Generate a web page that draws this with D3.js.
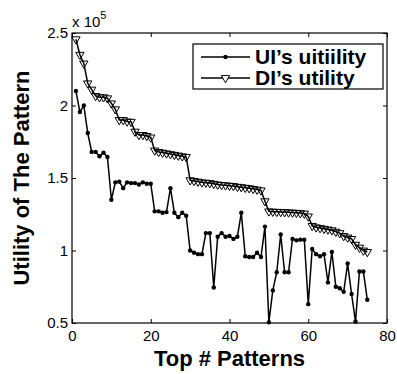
<!DOCTYPE html>
<html>
<head>
<meta charset="utf-8">
<script src="https://cdn.jsdelivr.net/npm/d3@7"></script>
<style>
  body { margin: 0; background: #fff; }
  svg { display: block; }
  text { font-family: "Liberation Sans", Arial, sans-serif; fill: #000; }
</style>
</head>
<body>
<svg id="chart" width="397" height="374"></svg>
<script>
// values are in units of 10^5
const patternRank = d3.range(1, 76);

const uiUtility = [
  2.10, 1.955, 2.00, 1.81, 1.68, 1.68, 1.65, 1.675, 1.645, 1.35,
  1.47, 1.475, 1.43, 1.47, 1.465, 1.465, 1.455, 1.47, 1.46, 1.46,
  1.27, 1.27, 1.26, 1.265, 1.43, 1.26, 1.23, 1.26, 1.24, 1.00,
  0.985, 0.975, 0.975, 1.12, 1.12, 0.745, 1.095, 1.12, 1.095, 1.10,
  1.08, 1.095, 1.26, 0.96, 0.955, 0.955, 0.985, 0.955, 1.165, 0.505,
  0.725, 0.85, 1.11, 0.85, 0.85, 1.08, 1.07, 1.075, 1.075, 0.63,
  1.01, 0.975, 0.96, 0.975, 0.78, 0.99, 0.75, 0.74, 0.715, 0.91,
  0.70, 0.51, 0.855, 0.855, 0.66
];

const diUtility = [
  2.457, 2.35, 2.29, 2.153, 2.11, 2.066, 2.057, 2.057, 2.05, 2.015,
  1.974, 1.90, 1.90, 1.89, 1.888, 1.82, 1.797, 1.797, 1.79, 1.78,
  1.69, 1.68, 1.675, 1.67, 1.665, 1.66, 1.655, 1.65, 1.645, 1.485,
  1.48, 1.475, 1.47, 1.468, 1.465, 1.46, 1.455, 1.452, 1.45, 1.447,
  1.445, 1.44, 1.437, 1.433, 1.43, 1.425, 1.42, 1.415, 1.34, 1.27,
  1.268, 1.267, 1.266, 1.265, 1.263, 1.262, 1.26, 1.258, 1.255, 1.235,
  1.17, 1.16, 1.155, 1.15, 1.145, 1.14, 1.13, 1.12, 1.10, 1.09,
  1.08, 1.04, 1.02, 1.00, 0.99
];

const xTicks = [0, 20, 40, 60, 80];
const yTicks = [0.5, 1, 1.5, 2, 2.5];
const seriesNames = ["UI\u2019s uitiility", "DI\u2019s utility"];

const svg = d3.select("#chart");
const plotL = 72, plotR = 387, plotT = 33, plotB = 323;

const x = d3.scaleLinear().domain([0, 80]).range([plotL, plotR]);
const y = d3.scaleLinear().domain([0.5, 2.5]).range([plotB, plotT]);

// axes, ticks pointing inward like matlab
const fmt = d3.format("");
svg.append("g")
    .attr("transform", `translate(0,${plotB})`)
    .call(d3.axisBottom(x).tickValues(xTicks).tickFormat(fmt).tickSizeInner(-4).tickSizeOuter(0).tickPadding(7))
    .call(g => g.select(".domain").remove())
    .call(g => g.selectAll("text").attr("font-size", 15).attr("font-family", null));

svg.append("g")
    .attr("transform", `translate(${plotL},0)`)
    .call(d3.axisLeft(y).tickValues(yTicks).tickFormat(fmt).tickSizeInner(-4).tickSizeOuter(0).tickPadding(4))
    .call(g => g.select(".domain").remove())
    .call(g => g.selectAll("text").attr("font-size", 15).attr("font-family", null));

svg.append("g")
    .attr("transform", `translate(0,${plotT})`)
    .call(d3.axisTop(x).tickValues(xTicks).tickFormat("").tickSizeInner(-4).tickSizeOuter(0))
    .call(g => g.select(".domain").remove());

svg.append("g")
    .attr("transform", `translate(${plotR},0)`)
    .call(d3.axisRight(y).tickValues(yTicks).tickFormat("").tickSizeInner(-4).tickSizeOuter(0))
    .call(g => g.select(".domain").remove());

svg.append("rect")
    .attr("x", plotL).attr("y", plotT)
    .attr("width", plotR - plotL).attr("height", plotB - plotT)
    .attr("fill", "none").attr("stroke", "#000").attr("stroke-width", 1.2);

// exponent
const expo = svg.append("text").attr("x", plotL).attr("y", 27).attr("font-size", 15);
expo.append("tspan").text("x 10");
expo.append("tspan").attr("dy", -8).attr("font-size", 11).text("5");

// axis titles
svg.append("text")
    .attr("x", (plotL + plotR) / 2).attr("y", 366)
    .attr("text-anchor", "middle").attr("font-size", 22).attr("font-weight", "bold")
    .text("Top # Patterns");

svg.append("text")
    .attr("transform", `translate(29,${(plotT + plotB) / 2}) rotate(-90)`)
    .attr("text-anchor", "middle").attr("font-size", 22).attr("font-weight", "bold")
    .text("Utility of The Pattern");

// series
const line = d3.line().x((d, i) => x(patternRank[i])).y(d => y(d));
const tri = d3.symbol().type(d3.symbolTriangle).size(30);

svg.append("path").datum(uiUtility)
    .attr("d", line).attr("fill", "none").attr("stroke", "#000").attr("stroke-width", 1.5);
svg.append("g").selectAll("circle").data(uiUtility).enter().append("circle")
    .attr("cx", (d, i) => x(patternRank[i])).attr("cy", d => y(d))
    .attr("r", 2.2).attr("fill", "#000");

svg.append("path").datum(diUtility)
    .attr("d", line).attr("fill", "none").attr("stroke", "#000").attr("stroke-width", 1.5);
svg.append("g").selectAll("path").data(diUtility).enter().append("path")
    .attr("d", tri)
    .attr("transform", (d, i) => `translate(${x(patternRank[i])},${y(d)}) rotate(180)`)
    .attr("fill", "none").attr("stroke", "#000").attr("stroke-width", 1);

// legend
const lg = svg.append("g");
lg.append("rect")
    .attr("x", 193).attr("y", 44).attr("width", 190).attr("height", 45)
    .attr("fill", "#fff").attr("stroke", "#000").attr("stroke-width", 1.2);

seriesNames.forEach(function(name, k) {
    const cy = 57 + k * 21;
    lg.append("line").attr("x1", 201).attr("x2", 250).attr("y1", cy).attr("y2", cy)
        .attr("stroke", "#000").attr("stroke-width", 1.5);
    if (k == 0) {
        lg.append("circle").attr("cx", 225.5).attr("cy", cy).attr("r", 2.2).attr("fill", "#000");
    } else {
        lg.append("path").attr("d", tri)
            .attr("transform", `translate(225.5,${cy}) rotate(180)`)
            .attr("fill", "#fff").attr("stroke", "#000").attr("stroke-width", 1);
    }
    lg.append("text").attr("x", 255).attr("y", cy + 7)
        .attr("font-size", 21).attr("font-weight", "bold")
        .text(name);
});
</script>
</body>
</html>
